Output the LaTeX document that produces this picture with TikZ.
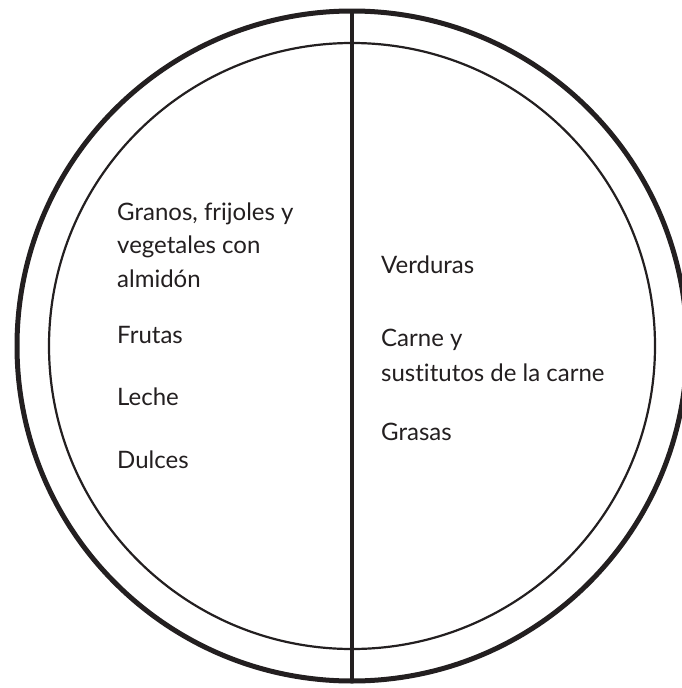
\documentclass[tikz,border=0pt]{standalone}
\usepackage{fontspec}
\setmainfont{Lato}[Ligatures={NoCommon,NoRare}]
\definecolor{ink}{HTML}{231F20}
\begin{document}
\begin{tikzpicture}[x=1pt,y=-1pt]
\tikzset{lab/.style={anchor=base west,inner sep=0pt,text=ink,font=\fontsize{24}{34}\selectfont,align=left}}
\useasboundingbox (0,0) rectangle (682,688);
\fill[white] (0,0) rectangle (682,688);
\coordinate (c) at (352,346);
\draw[ink,line width=5pt] (c) circle[radius=335];
\draw[ink,line width=2.2pt] (c) circle[radius=303];
\coordinate (top) at (352,10);
\coordinate (bot) at (352,682);
\draw[ink,line width=3.8pt] (top) -- (bot);
\node[lab] (g1) at (117,220) {Granos, frijoles y};
\node[lab] (g2) at (117,253) {vegetales con};
\node[lab] (g3) at (117,287) {almidón};
\node[lab] (fr) at (117,343) {Frutas};
\node[lab] (le) at (117,405) {Leche};
\node[lab] (du) at (117,468) {Dulces};
\node[lab] (ve) at (381,273) {Verduras};
\node[lab] (ca) at (381,346) {Carne y};
\node[lab] (su) at (381,381) {sustitutos de la carne};
\node[lab] (gr) at (381,440) {Grasas};
\end{tikzpicture}
\end{document}
